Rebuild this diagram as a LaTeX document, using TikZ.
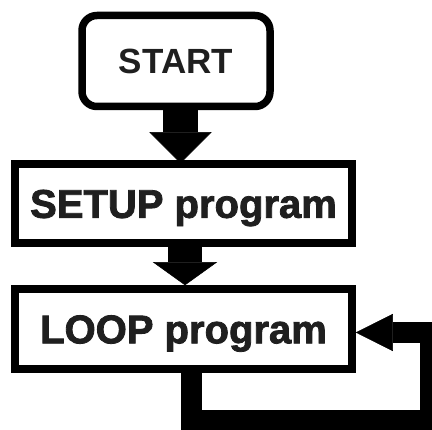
\documentclass[tikz,border=0pt]{standalone}
\usepackage{fontspec}
\setmainfont{Liberation Sans}
\newfontfamily\heavyfont[BoldFeatures={FakeBold=2}]{Liberation Sans}
\usetikzlibrary{arrows.meta}
\begin{document}
\begin{tikzpicture}[x=1pt,y=-1pt,
  flowbox/.style={draw=black, line width=7.5pt, fill=white, inner sep=0pt,
    text=black!88, font=\heavyfont\bfseries\fontsize{40}{48}\selectfont,
    text height=28.6pt, text depth=0pt},
  termbox/.style={flowbox, rounded corners=15pt,
    font=\bfseries\fontsize{35}{42}\selectfont, text height=25pt},
  fatarrow/.style={line width=35pt, shorten >=-3pt,
    -{Triangle[width=62pt,length=31pt,line width=0.5pt]}},
  fatarrowshort/.style={line width=34pt,
    -{Triangle[width=64pt,length=23pt,line width=0.5pt]}},
  loopline/.style={line width=21pt, line join=miter,
    -{Triangle[width=37pt,length=37pt,line width=0.5pt]}}]
  \useasboundingbox (0,0) rectangle (432,430);
  \clip (0,0) rectangle (432,430);

  % flowchart blocks
  \node[termbox, minimum width=188pt, minimum height=91pt] (start) at (176,61) {START};
  \node[flowbox, minimum width=337pt, minimum height=79pt] (setup) at (183.5,203.5) {SETUP program};
  \node[flowbox, minimum width=337pt, minimum height=80pt] (loop) at (183.5,329) {LOOP program};

  % downward flow
  \draw[fatarrow] ([xshift=4.5pt]start.south) -- ([xshift=4.5pt]start.south |- setup.north);
  \draw[fatarrowshort] ([xshift=1.5pt]setup.south) -- ([xshift=1.5pt]setup.south |- loop.north);

  % repeat path back into the loop block
  \coordinate (c1) at (191,421);
  \coordinate (c2) at (430.5,421);
  \coordinate (c3) at (430.5,332.5);
  \draw[loopline] (loop.south -| c1) -- (c1) -- (c2) -- (c3) -- (loop.east |- c3);
\end{tikzpicture}
\end{document}
